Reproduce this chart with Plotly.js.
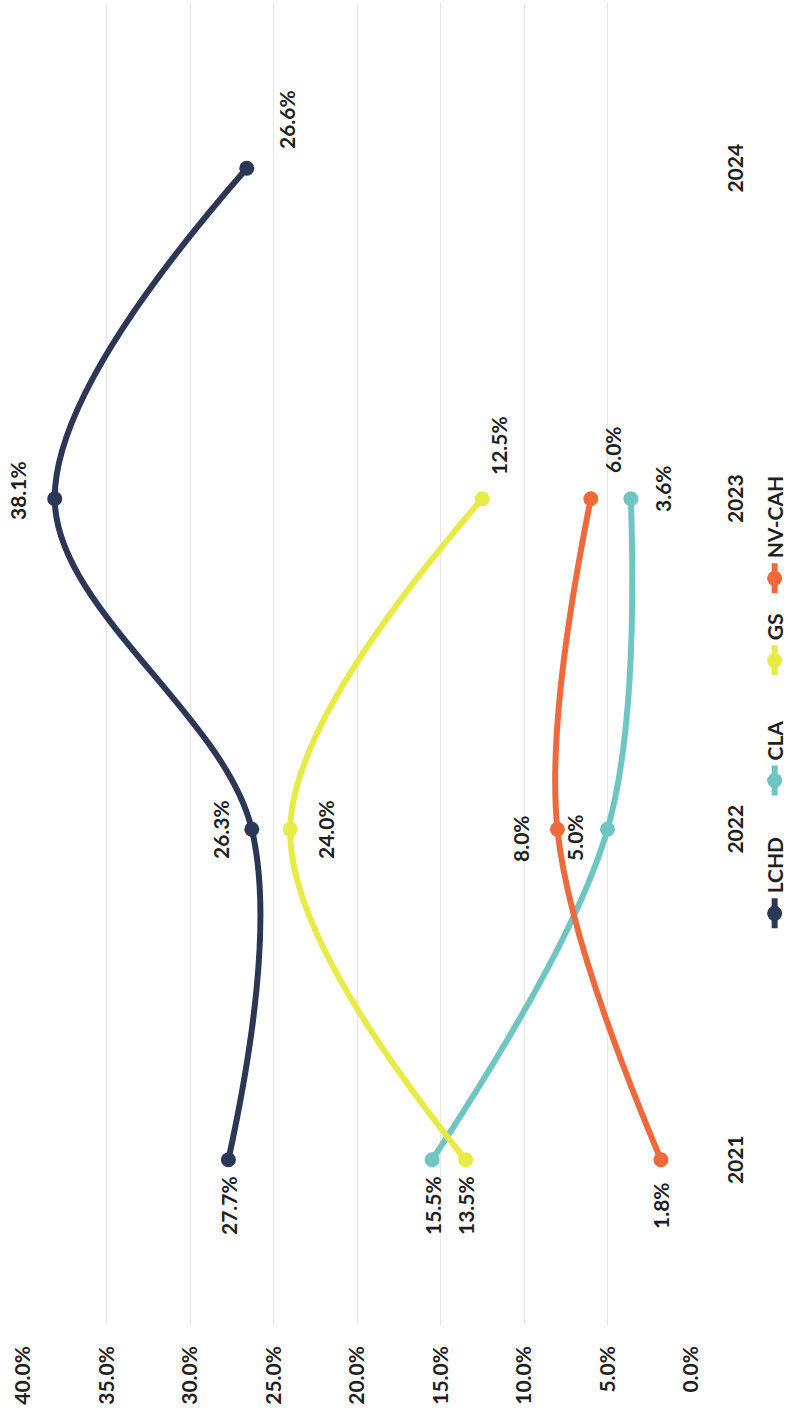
<!DOCTYPE html>
<html><head><meta charset="utf-8">
<script src="https://cdn.plot.ly/plotly-3.0.1.min.js"></script>
<style>
html,body{margin:0;padding:0;width:788px;height:1423px;overflow:hidden;background:#fff;}
#chart{position:absolute;left:0;top:0;width:1423px;height:788px;transform-origin:0 0;}
</style></head><body><div id="chart"></div>
<script>
// Data
const years = ['2021', '2022', '2023', '2024'];
const seriesNames = ['LCHD', 'CLA', 'GS', 'NV-CAH'];
const lchd = [27.7, 26.3, 38.1, 26.6];
const cla = [15.5, 5.0, 3.6, null];
const gs = [13.5, 24.0, 12.5, null];
const nvcah = [1.8, 8.0, 6.0, null];
const yTickValues = [0, 5, 10, 15, 20, 25, 30, 35, 40];

// Styles
const colors = ['#2c3756', '#6fc5c2', '#e6ec45', '#ee6a3c'];
const labelShift = [
  [[-46, 0], [0, 31], [8, 37], [49, -40]],
  [[-46, 0], [-8, 33], [10, -32]],
  [[-46, 0], [0, -35], [53, -16]],
  [[-46, 0], [-9, 37], [49, -22]]
];
const legendLeft = [0.3441, 0.4375, 0.5219, 0.5795];
const FONT = 'Lato, "Open Sans", sans-serif';
const TXT = '#1f1f1f';
const allSeries = [lchd, cla, gs, nvcah];
const legendIds = ['legend', 'legend2', 'legend3', 'legend4'];

const traces = allSeries.map((vals, k) => ({
  type: 'scatter', mode: 'lines+markers', name: seriesNames[k],
  legend: legendIds[k],
  x: years, y: vals,
  line: {color: colors[k], width: 6, shape: 'spline', smoothing: 1},
  marker: {color: colors[k], size: 15},
  hoverinfo: 'skip'
}));

const annotations = [];
allSeries.forEach((vals, k) => {
  vals.forEach((v, i) => {
    if (v === null) return;
    const s = labelShift[k][i];
    annotations.push({
      x: i, y: v, xref: 'x', yref: 'y',   // x = category index of years[i]
      text: v.toFixed(1) + '%', showarrow: false,
      xshift: s[0], yshift: s[1],
      font: {family: FONT, size: 21, color: TXT, weight: 700}
    });
  });
});

const layout = {
  width: 1423, height: 788,
  margin: {l: 98, r: 3, t: 23, b: 97, autoexpand: false},
  paper_bgcolor: '#ffffff', plot_bgcolor: '#ffffff',
  showlegend: true,
  xaxis: {type: 'category', categoryarray: years, range: [-0.5, 3.5], showgrid: false, zeroline: false, showline: false, ticks: '',
    ticklabelstandoff: 30, tickfont: {family: FONT, size: 21, color: TXT, weight: 700}, fixedrange: true},
  yaxis: {range: [0, 40], tickvals: yTickValues, ticktext: yTickValues.map(v => v.toFixed(1) + '%'),
    showgrid: true, gridcolor: '#e4e4e4', gridwidth: 1, zeroline: false, showline: false, ticks: '',
    ticklabelstandoff: 20, tickfont: {family: FONT, size: 21, color: TXT, weight: 700}, fixedrange: true},
  annotations: annotations
};
legendIds.forEach((id, k) => {
  layout[id] = {orientation: 'h', xref: 'container', yref: 'container',
    x: legendLeft[k], xanchor: 'left', y: 0.0165, yanchor: 'middle',
    bgcolor: 'rgba(0,0,0,0)', font: {family: FONT, size: 21, color: TXT, weight: 700}};
});

Plotly.newPlot('chart', traces, layout, {displayModeBar: false}).then(function(gd){
  // the reference chart is printed rotated a quarter turn counter-clockwise
  gd.style.transform = 'translate(0px,1423px) rotate(-90deg)';
});
</script></body></html>
